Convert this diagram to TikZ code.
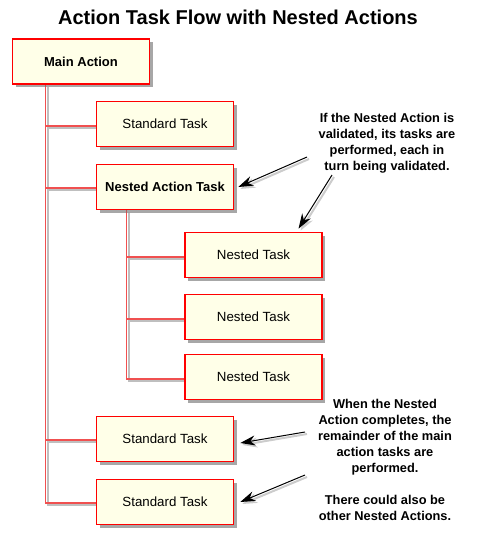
\documentclass[tikz,border=0pt]{standalone}
\usepackage{fontspec}
\setmainfont{Liberation Sans}
\usetikzlibrary{shadows,arrows.meta,calc}
\definecolor{boxfill}{HTML}{FFFFE8}
\definecolor{boxline}{HTML}{FF0000}
\definecolor{connred}{HTML}{F05050}
\tikzset{
  taskbox/.style={draw=boxline, line width=1.6pt, fill=boxfill, minimum width=137pt, minimum height=45pt,
    inner sep=0pt, font=\fontsize{13.3}{15}\selectfont,
    drop shadow={shadow xshift=3pt, shadow yshift=-3pt, opacity=0.35, fill=black!60}},
  boldbox/.style={taskbox, font=\fontsize{13}{15}\selectfont\bfseries},
  conn/.style={draw=connred, line width=1.2pt,
    preaction={draw=black!25, line width=2pt, transform canvas={xshift=2pt,yshift=-2pt}}},
  note/.style={align=center, font=\fontsize{12.8}{16}\selectfont\bfseries, inner sep=0pt},
  callout/.style={draw=black, line width=1pt, -{Stealth[length=15pt,width=10pt]},
    preaction={draw=black!20, line width=2pt, transform canvas={xshift=2pt,yshift=-2pt}}}
}
\begin{document}
\begin{tikzpicture}[x=1pt,y=-1pt]
\useasboundingbox (0,0) rectangle (480,533);
% title
\node (title) [font=\fontsize{20}{22}\selectfont\bfseries] at (238,17) {Action Task Flow with Nested Actions};
% connectors
\node[boldbox] (main) at (81,61.5) {Main Action};
\node[taskbox] (std1) at (165,124) {Standard Task};
\node[boldbox] (nested) at (165,187) {Nested Action Task};
\node[taskbox] (nt1) at (253.5,255) {Nested Task};
\node[taskbox] (nt2) at (253.5,317) {Nested Task};
\node[taskbox] (nt3) at (253.5,377) {Nested Task};
\node[taskbox] (std3) at (165,439) {Standard Task};
\node[taskbox] (std4) at (165,502) {Standard Task};
\coordinate (mt) at ($(main.south west)+(34,0)$);
\coordinate (nt) at ($(nested.south west)+(31,0)$);
\draw[conn] (mt) |- ($(std4.west)+(0,1)$);
\draw[conn] ($(std1.west)+(0,2)$) -- ($(std1.west -| mt)+(0,2)$);
\draw[conn] ($(nested.west)+(0,1)$) -- ($(nested.west -| mt)+(0,1)$);
\draw[conn] ($(std3.west)+(0,1)$) -- ($(std3.west -| mt)+(0,1)$);
\draw[conn] (nt) |- ($(nt3.west)+(0,2)$);
\draw[conn] ($(nt1.west)+(0,2)$) -- ($(nt1.west -| nt)+(0,2)$);
\draw[conn] ($(nt2.west)+(0,2)$) -- ($(nt2.west -| nt)+(0,2)$);
% boxes drawn over the connectors
\node[boldbox] at (main) {Main Action};
\node[taskbox] at (std1) {Standard Task};
\node[boldbox] at (nested) {Nested Action Task};
\node[taskbox] at (nt1) {Nested Task};
\node[taskbox] at (nt2) {Nested Task};
\node[taskbox] at (nt3) {Nested Task};
\node[taskbox] at (std3) {Standard Task};
\node[taskbox] at (std4) {Standard Task};
% notes
\node[note] (note1) at (387,143) {If the Nested Action is\\validated, its tasks are\\performed, each in\\turn being validated.};
\node[note] (note2) at (385,460) {When the Nested\\Action completes, the\\remainder of the main\\action tasks are\\performed.\\[16pt]There could also be\\other Nested Actions.};
\coordinate (a1) at (307,157);
\coordinate (a2) at (332,175);
\coordinate (a3) at (305,432);
\coordinate (a4) at (305,475);
\draw[callout] (a1) -- ($(nested.east)+(4,0)$);
\draw[callout] (a2) -- ($(nt1.north)+(45,-3)$);
\draw[callout] (a3) -- ($(std3.east)+(6,4)$);
\draw[callout] (a4) -- ($(std4.east)+(6,0)$);
\end{tikzpicture}
\end{document}
